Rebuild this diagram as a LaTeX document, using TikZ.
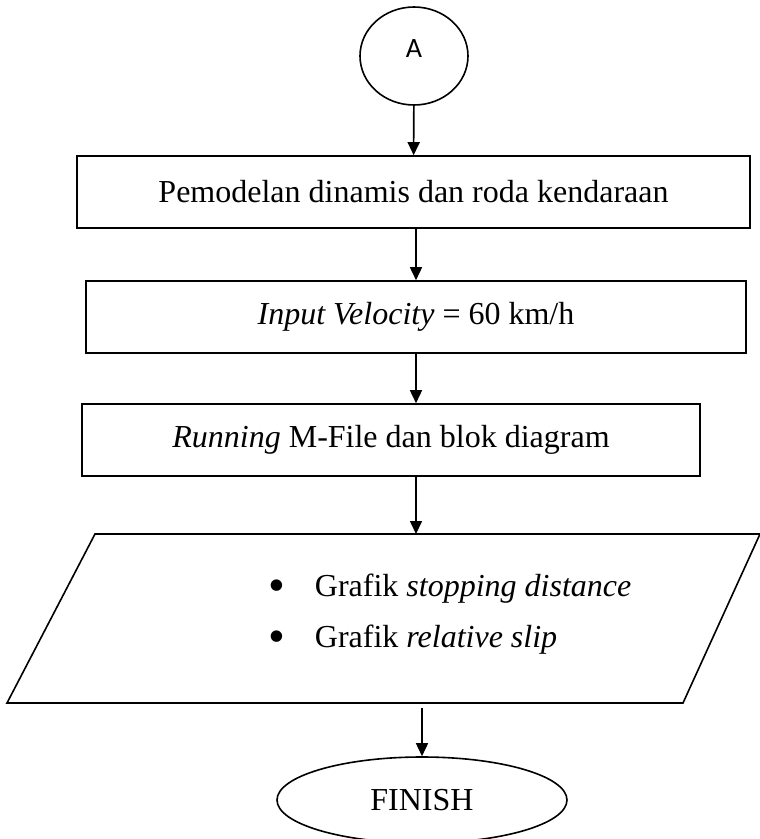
\documentclass[tikz,border=0pt]{standalone}
\usepackage{fontspec}
\setmainfont{Liberation Serif}
\newfontfamily\calfont{Carlito}
\usetikzlibrary{positioning, arrows.meta, shapes.geometric}

\newcommand{\bigdot}{\raisebox{-5pt}{\fontsize{48}{48}\selectfont\textbullet}}

\begin{document}
\begin{tikzpicture}[x=1pt, y=-1pt, >={Triangle[length=13pt, width=12pt]}, line width=1.6pt,
    font=\fontsize{32}{38}\selectfont,
    connector/.style={draw, ellipse, minimum width=108pt, minimum height=98pt, inner sep=0pt},
    process/.style={draw, rectangle, minimum height=72pt, inner sep=0pt},
    terminal/.style={draw, ellipse, minimum width=290pt, minimum height=86pt, inner sep=0pt}]
            \useasboundingbox (0,0) rectangle (760,839);

            \node[connector] (A) at (414,56) {};
            \node[font=\calfont\fontsize{28}{32}\selectfont] (Alabel) at (414,49) {A};
            \node[process, minimum width=673pt] (model) at (413.5,192) {Pemodelan dinamis dan roda kendaraan};
            \node[process, minimum width=660pt] (input) at (416,317) {\textit{Input Velocity} = 60 km/h};
            \node[process, minimum width=618pt] (run) at (391,440) {\textit{Running} M-File dan blok diagram};

            % output (parallelogram)
            \coordinate (ptl) at (95,534);
            \coordinate (ptr) at (760,534);
            \coordinate (pbr) at (683,703);
            \coordinate (pbl) at (7,703);
            \draw (ptl) -- (ptr) -- (pbr) -- (pbl) -- cycle;
            \coordinate (outin) at (416,534);
            \coordinate (outout) at (422,708);
            \node[anchor=west, align=left] (graphs) at (264,614)
              {\begin{tabular}{@{}l@{\hspace{30pt}}l@{}}
                 \bigdot & Grafik \textit{stopping distance}\\[13pt]
                 \bigdot & Grafik \textit{relative slip}
               \end{tabular}};

            \node[terminal] (finish) at (422,800) {FINISH};

            \path[->]
              (A) edge (model)
              (model.south -| input.north) edge (input)
              (input) edge (input.south |- run.north)
              (run.south -| input.south) edge (outin)
              (outout) edge (finish)
            ;
          \end{tikzpicture}
\end{document}
